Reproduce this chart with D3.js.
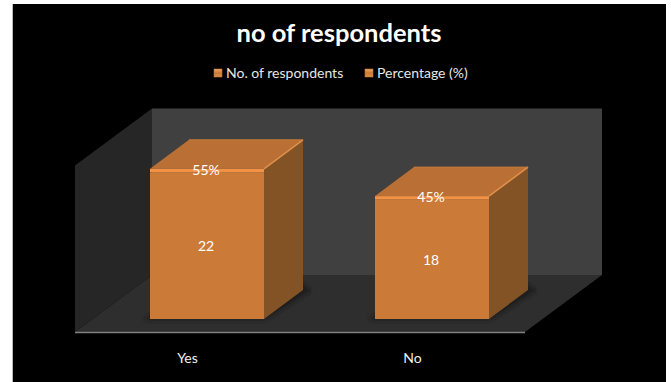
<!DOCTYPE html>
<html><head><meta charset="utf-8">
<script src="https://cdn.jsdelivr.net/npm/d3@7/dist/d3.min.js"></script>
<style>html,body{margin:0;padding:0;background:#fff}svg{display:block}text{font-family:Lato,"Open Sans",sans-serif}</style>
</head><body><div id="c"></div>
<script>
const categories = ["Yes","No"];
const respondents = [22,18];
const percentages = [0.55,0.45];
const percentLabels = ["55%","45%"];
const seriesNames = ["No. of respondents","Percentage (%)"];
const title = "no of respondents";

const W=671,H=382;
const svg=d3.select("#c").append("svg").attr("width",W).attr("height",H);
const defs=svg.append("defs");
const lg=defs.append("linearGradient").attr("id","sw").attr("x1",0).attr("y1",0).attr("x2",0).attr("y2",1);
lg.append("stop").attr("offset",0).attr("stop-color","#f5a860");
lg.append("stop").attr("offset",.5).attr("stop-color","#c97a36");
lg.append("stop").attr("offset",1).attr("stop-color","#e09048");
const blur=defs.append("filter").attr("id","sh").attr("x","-20%").attr("y","-20%").attr("width","140%").attr("height","140%");
blur.append("feGaussianBlur").attr("stdDeviation",2);

svg.append("rect").attr("x",12).attr("y",4).attr("width",654).attr("height",H-4).attr("fill","#000");
svg.append("line").attr("x1",12.5).attr("x2",12.5).attr("y1",4).attr("y2",H).attr("stroke","#bbb");

// 3D projection
const DX=77,DY=-57, BX=39,BY=-29;
const y=d3.scaleLinear().domain([0,25]).range([0,166.5]);
const x0=75,x1=525,yb=332;
const band=d3.scaleBand().domain(categories).range([x0,x1]);
const poly=(pts,fill,extra)=>{const p=svg.append("polygon").attr("points",pts.map(d=>d.join(",")).join(" ")).attr("fill",fill);if(extra)p.attr("filter",extra);return p;};
// walls
const wallTop=yb-y(25);
poly([[x0+DX,wallTop+DY],[x1+DX,wallTop+DY],[x1+DX,yb+DY],[x0+DX,yb+DY]],"#404040");
poly([[x0,wallTop],[x0+DX,wallTop+DY],[x0+DX,yb+DY],[x0,yb]],"#262626");
poly([[x0,yb],[x1,yb],[x1+DX,yb+DY],[x0+DX,yb+DY]],"#2e2e2e");
svg.append("line").attr("x1",x0).attr("x2",x1).attr("y1",yb+.5).attr("y2",yb+.5).attr("stroke","#808080").attr("stroke-width",1.6);

// bars
const barW=114, base=319;
categories.forEach((c,i)=>{
  const axisX=band(c)+band.bandwidth()/2;
  const cx=axisX+BX/2;
  const xl=cx-barW/2, xr=cx+barW/2;
  const y1=base-y(respondents[i]), y2=base-y(respondents[i]+percentages[i]);
  // shadow
  poly([[xl-6,base+1],[xr+1,base+1],[xr+BX+7,base+BY+1],[xr+BX,base+BY-6],[xr,base-6],[xl,base-4]],"#1a1a1a","url(#sh)");
  // side
  poly([[xr,y2],[xr+BX,y2+BY],[xr+BX,base+BY],[xr,base]],"#835225");
  // top
  poly([[xl,y2],[xl+BX,y2+BY],[xr+BX,y2+BY],[xr,y2]],"#ba7034");
  svg.append("line").attr("x1",xr).attr("y1",y2).attr("x2",xr+BX).attr("y2",y2+BY).attr("stroke","#e0904a").attr("stroke-width",1.5);
  svg.append("line").attr("x1",xl+BX).attr("y1",y2+BY).attr("x2",xr+BX).attr("y2",y2+BY).attr("stroke","#c67a3a").attr("stroke-width",1);
  // front
  svg.append("rect").attr("x",xl).attr("y",y1).attr("width",barW).attr("height",base-y1).attr("fill","#cb7b37");
  svg.append("rect").attr("x",xl).attr("y",y2).attr("width",barW).attr("height",y1-y2).attr("fill","#f39144");
  svg.append("text").attr("x",cx-1).attr("y",y2+6).attr("text-anchor","middle").attr("fill","#fff").attr("font-size",14).text(percentLabels[i]);
  svg.append("text").attr("x",cx-1).attr("y",base-y(respondents[i])/2+5.5).attr("text-anchor","middle").attr("fill","#fff").attr("font-size",14).text(respondents[i]);
  svg.append("text").attr("x",axisX).attr("y",363).attr("text-anchor","middle").attr("fill","#f0f0f0").attr("font-size",14).text(c);
});

// title
svg.append("text").attr("x",339).attr("y",42).attr("text-anchor","middle").attr("fill","#fff").attr("font-size",25.5).attr("font-weight",700).text(title);

// legend
[[214,226],[365,377]].forEach((p,i)=>{
  svg.append("rect").attr("x",p[0]).attr("y",69).attr("width",8).attr("height",8).attr("fill","url(#sw)").attr("stroke","#b5723a").attr("stroke-width",.6);
  svg.append("text").attr("x",p[1]).attr("y",78).attr("fill","#e6e6e6").attr("font-size",14).text(seriesNames[i]);
});
</script></body></html>
